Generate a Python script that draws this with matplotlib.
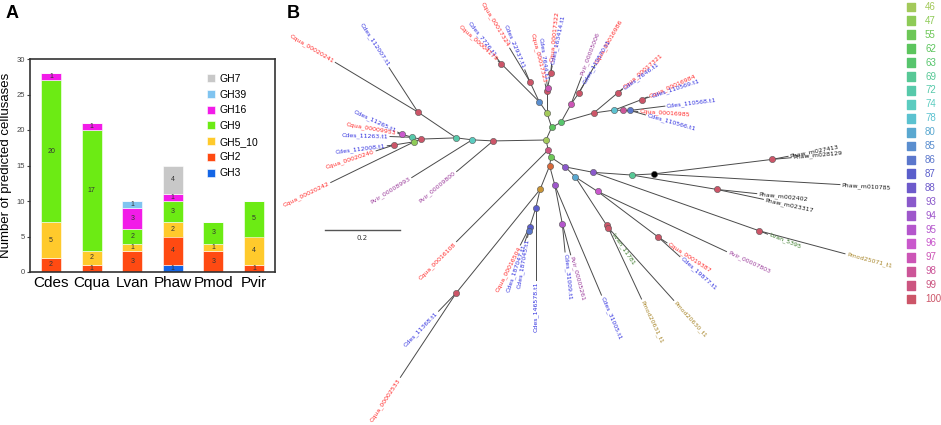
import numpy as np
import matplotlib.pyplot as plt

plt.rcParams['font.family'] = ['Liberation Sans', 'DejaVu Sans']

# ---- panel A data: predicted cellulases per species ----
species = ['Cdes', 'Cqua', 'Lvan', 'Phaw', 'Pmod', 'Pvir']
families = ['GH3', 'GH2', 'GH5_10', 'GH9', 'GH16', 'GH39', 'GH7']
gh3 = [0, 0, 0, 1, 0, 0]
gh2 = [2, 1, 3, 4, 3, 1]
gh5_10 = [5, 2, 1, 2, 1, 4]
gh9 = [20, 17, 2, 3, 3, 5]
gh16 = [1, 1, 3, 1, 0, 0]
gh39 = [0, 0, 1, 0, 0, 0]
gh7 = [0, 0, 0, 4, 0, 0]
fam_colors = ['#1466E6', '#FF4A12', '#FFCA2C', '#6CEB14', '#F21CE8', '#80C4F0', '#C8C8C8']

# ---- panel B data: tree as (parent, child, branch length, angle in degrees) ----
tree_edges = [
    ('root', 'a1', 0.141, 181),
    ('a1', 'a2', 0.056, 177),
    ('a1', 'Pvir_00009800', 0.127, 220),
    ('a2', 'a3', 0.043, 173),
    ('a2', 'Pvir_00008993', 0.190, 212),
    ('a3', 'a4', 0.123, 146),
    ('a3', 'a5', 0.095, 182),
    ('a4', 'Cqua_00020241', 0.257, 149),
    ('a4', 'Cdes_112007.t1', 0.141, 123),
    ('a5', 'a6', 0.023, 168),
    ('a5', 'a7', 0.018, 203),
    ('a6', 'a8', 0.027, 163),
    ('a6', 'Cdes_11263.t1', 0.059, 178),
    ('a8', 'Cdes_11265.t1', 0.014, 155),
    ('a8', 'Cqua_00009953', 0.012, 170),
    ('a7', 'a9', 0.054, 189),
    ('a7', 'Cqua_00020242', 0.248, 206),
    ('a9', 'Cdes_112008.t1', 0.019, 187),
    ('a9', 'Cqua_00020240', 0.051, 198),
    ('root', 'b1', 0.037, 66),
    ('b1', 'b2', 0.041, 108),
    ('b1', 'b3', 0.028, 28),
    ('b2', 'b4', 0.036, 125),
    ('b2', 'b5', 0.058, 90),
    ('b4', 'b6', 0.059, 115),
    ('b4', 'b7', 0.142, 135),
    ('b6', 'Cqua_00017324', 0.104, 121),
    ('b6', 'Cdes_22937.t1', 0.034, 113),
    ('b7', 'Cdes_7726.t1', 0.022, 128),
    ('b7', 'Cqua_00004179', 0.012, 138),
    ('b5', 'b8', 0.009, 78),
    ('b5', 'Cqua_00017323', 0.019, 104),
    ('b8', 'b9', 0.039, 78),
    ('b8', 'Cdes_7644.t1', 0.016, 98),
    ('b9', 'Cqua_00017322', 0.025, 84),
    ('b9', 'Cdes_163414.t1', 0.020, 78),
    ('b3', 'b10', 0.055, 61),
    ('b3', 'b11', 0.091, 16),
    ('b10', 'Pvir_00005006', 0.078, 69),
    ('b10', 'b12', 0.036, 55),
    ('b12', 'Cqua_00016986', 0.087, 60),
    ('b12', 'Cdes_110570.t1', 0.026, 60),
    ('b11', 'b13', 0.085, 40),
    ('b11', 'b14', 0.055, 8),
    ('b13', 'Cqua_00017321', 0.015, 41),
    ('b13', 'Cdes_7646.t1', 0.014, 36),
    ('b14', 'b15', 0.079, 21),
    ('b14', 'b16', 0.024, -2),
    ('b15', 'Cqua_00016984', 0.016, 24),
    ('b15', 'Cdes_110569.t1', 0.022, 18),
    ('b16', 'b17', 0.018, 0),
    ('b16', 'Cqua_00016985', 0.039, -4),
    ('b17', 'Cdes_110568.t1', 0.094, 7),
    ('b17', 'Cdes_110566.t1', 0.043, -16),
    ('root', 'c1', 0.027, -77),
    ('c1', 'Cqua_00016108', 0.346, 225),
    ('c1', 'c2', 0.021, -70),
    ('c2', 'c3', 0.023, -99),
    ('c2', 'c4', 0.046, -34),
    ('c3', 'c5', 0.068, -112),
    ('c3', 'c6', 0.054, -75),
    ('c5', 'c7', 0.355, -129),
    ('c5', 'c8', 0.052, -103),
    ('c7', 'Cdes_11368.t1', 0.068, -134),
    ('c7', 'Cqua_00002533', 0.270, -123.5),
    ('c8', 'c9', 0.051, -108),
    ('c8', 'Cdes_146578.t1', 0.191, -90),
    ('c9', 'c10', 0.011, -104),
    ('c9', 'Cqua_00016504', 0.055, -117),
    ('c10', 'Cdes_187047.t1', 0.032, -109),
    ('c10', 'Cdes_187045.t1', 0.018, -100),
    ('c6', 'c11', 0.104, -79),
    ('c6', 'Cdes_31005.t1', 0.318, -67),
    ('c11', 'Cdes_31009.t1', 0.076, -84.5),
    ('c11', 'Pvir_00005261', 0.086, -75),
    ('c4', 'c12', 0.076, -11),
    ('c4', 'c13', 0.038, -45),
    ('c12', 'c14', 0.103, -4),
    ('c12', 'c15', 0.469, -19.4),
    ('c14', 'c16', 0.060, 3),
    ('c14', 'c17', 0.230, -9.6),
    ('c16', 'c18', 0.317, 7),
    ('c16', 'Phaw_m010785', 0.496, -3.3),
    ('c18', 'Phaw_m027413', 0.043, 11),
    ('c18', 'Phaw_m028129', 0.050, 5),
    ('c17', 'Phaw_m002402', 0.107, -6),
    ('c17', 'Phaw_m023317', 0.127, -12),
    ('c15', 'Lvan_5395', 0.024, -22),
    ('c15', 'Pmod25071_t1', 0.237, -15),
    ('c13', 'c19', 0.071, -33),
    ('c13', 'c20', 0.153, -57),
    ('c19', 'c22', 0.202, -37),
    ('c19', 'Pvir_00007803', 0.379, -25),
    ('c22', 'Cqua_00019387', 0.028, -33),
    ('c22', 'Cdes_19877.t1', 0.078, -42),
    ('c20', 'c21', 0.008, -57),
    ('c20', 'Lvan_11781', 0.022, -56),
    ('c21', 'Pmod20631_t1', 0.210, -65),
    ('c21', 'Pmod20630_t1', 0.261, -48),
]

# bootstrap support of internal nodes
node_support = {
    'root': 46, 'a1': 100, 'a2': 74, 'a3': 72, 'a4': 100, 'a5': 100, 'a6': 72,
    'a7': 47, 'a8': 96, 'a9': 100,
    'b1': 62, 'b2': 46, 'b3': 63, 'b4': 85, 'b5': 100, 'b6': 100, 'b7': 100,
    'b8': 97, 'b9': 100, 'b10': 97, 'b11': 100, 'b12': 100, 'b13': 100,
    'b14': 78, 'b15': 100, 'b16': 98, 'b17': 86,
    'c1': 99, 'c2': 55, 'c4': 93, 'c6': 94, 'c7': 100, 'c8': 87, 'c9': 87,
    'c10': 86, 'c11': 95, 'c12': 93, 'c13': 80, 'c14': 69, 'c15': 100,
    'c17': 100, 'c18': 100, 'c19': 96, 'c20': 100, 'c21': 100, 'c22': 100,
}
other_nodes = {'c3': '#D8683A', 'c5': '#C89436', 'c16': '#000000'}

support_values = [46, 47, 55, 62, 63, 69, 72, 74, 78, 80, 85, 86, 87, 88,
                  93, 94, 95, 96, 97, 98, 99, 100]
support_colors = ['#A3C95A', '#8ECB57', '#6DC757', '#5CC55D', '#57C56D', '#57C896',
                  '#57C9AA', '#5BCCC0', '#5BC2D0', '#5AA8D0', '#5A8ECF', '#5B77CC',
                  '#5A5ECB', '#6D5ACB', '#8A59CB', '#9E57CB', '#B456CC', '#C958CC',
                  '#CC55B6', '#CC5598', '#CC5580', '#CC5568']
label_colors = {'Cqua': '#FF2B2B', 'Cdes': '#3535E0', 'Pvir': '#9B3C9B',
                'Phaw': '#1A1A1A', 'Lvan': '#3A7A2A', 'Pmod': '#A8862A'}

fig = plt.figure(figsize=(9.41, 4.25), dpi=100)

# ================= panel A =================
axA = fig.add_axes([30 / 941, 153 / 425, 245 / 941, 213 / 425])
x = np.arange(len(species))
stacks = [gh3, gh2, gh5_10, gh9, gh16, gh39, gh7]
bottom = np.zeros(len(species))
handles = []
for fam, vals, col in zip(families, stacks, fam_colors):
    vals = np.array(vals, dtype=float)
    bars = axA.bar(x, vals, 0.5, bottom=bottom, color=col, edgecolor='white',
                   linewidth=0.4, label=fam)
    handles.append(bars)
    for xi, v, b in zip(x, vals, bottom):
        if v > 0:
            axA.text(xi, b + v / 2, str(int(v)), ha='center', va='center',
                     fontsize=5, color='#333333')
    bottom += vals

axA.set_xlim(-0.52, 5.52)
axA.set_ylim(0, 30)
axA.set_yticks(range(0, 31, 5))
axA.set_xticks(x)
axA.set_xticklabels(species, fontsize=11)
axA.tick_params(axis='x', length=0, pad=3)
axA.tick_params(axis='y', labelsize=5.5, length=2, width=0.8, pad=1.5, colors='#444444')
for sp in axA.spines.values():
    sp.set_linewidth(1.2)
    sp.set_color('#333333')
axA.set_ylabel('Number of predicted cellusases', fontsize=9.5, labelpad=3)
axA.legend(handles[::-1], families[::-1], loc='upper left', bbox_to_anchor=(0.7, 0.955),
           frameon=False, fontsize=7.5, handlelength=0.8, handleheight=0.8,
           handletextpad=0.4, labelspacing=0.55, borderpad=0)

fig.text(6 / 941, 1 - 5 / 425, 'A', fontsize=13, fontweight='bold', va='top')
fig.text(287 / 941, 1 - 5 / 425, 'B', fontsize=13, fontweight='bold', va='top')

# ================= panel B =================
axB = fig.add_axes([290 / 941, 0, 590 / 941, 1])
axB.set_xlim(0, 590 / 375)
axB.set_ylim(0, 425 / 375)
axB.axis('off')

pos = {'root': np.array([256 / 375, 285 / 375])}
for parent, child, length, ang in tree_edges:
    a = np.deg2rad(ang)
    pos[child] = pos[parent] + length * np.array([np.cos(a), np.sin(a)])
    p0, p1 = pos[parent], pos[child]
    axB.plot([p0[0], p1[0]], [p0[1], p1[1]], color='#4A4A4A', lw=0.7, zorder=1)

    if child in node_support or child in other_nodes:
        continue
    # leaf label
    norm = (ang + 180) % 360 - 180
    off = pos[child] + 0.005 * np.array([np.cos(a), np.sin(a)])
    if -90 < norm <= 90:
        rot, ha = norm, 'left'
    else:
        rot, ha = norm - 180 if norm > 0 else norm + 180, 'right'
    axB.text(off[0], off[1], child, rotation=rot, ha=ha, va='center',
             rotation_mode='anchor', fontsize=4.5, color=label_colors[child[:4]],
             family='DejaVu Sans')

cmap_support = dict(zip(support_values, support_colors))
for name in list(node_support) + list(other_nodes):
    col = cmap_support[node_support[name]] if name in node_support else other_nodes[name]
    axB.scatter(pos[name][0], pos[name][1], s=20, color=col, edgecolor='#555555',
                linewidth=0.4, zorder=3)

# scale bar
sb_x, sb_y = 35 / 375, 195 / 375
axB.plot([sb_x, sb_x + 0.2], [sb_y, sb_y], color='#555555', lw=1)
axB.text(sb_x + 0.1, sb_y - 0.012, '0.2', ha='center', va='top', fontsize=5,
         color='#333333', family='DejaVu Sans')

# ================= support legend =================
axL = fig.add_axes([900 / 941, 1 - 306 / 425, 41 / 941, 306 / 425])
axL.set_xlim(0, 41)
axL.set_ylim(len(support_values), 0)
axL.axis('off')
yy = np.arange(len(support_values)) + 0.5
axL.scatter(np.full(len(yy), 11), yy, marker='s', s=40, c=support_colors)
for yi, v, c in zip(yy, support_values, support_colors):
    axL.text(25, yi, str(v), ha='left', va='center', fontsize=7, color=c)

fig.savefig('out.png', dpi=100)
